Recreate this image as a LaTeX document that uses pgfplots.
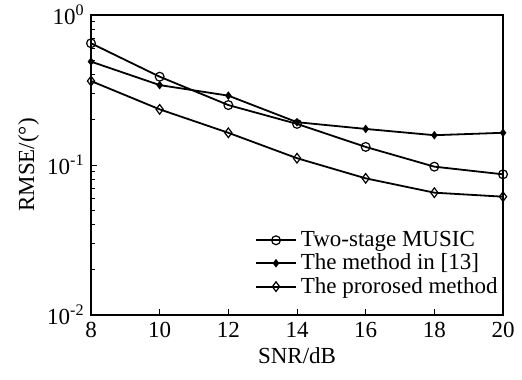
\documentclass[border=0pt]{standalone}
\usepackage{fontspec}
\setmainfont{Liberation Serif}
\usepackage{pgfplots}
\pgfplotsset{compat=1.18}
\begin{document}
\begin{tikzpicture}
\begin{axis}[
  scale only axis, width=206pt, height=150pt,
  ymode=log, xmin=8, xmax=20, ymin=0.01, ymax=1,
  xtick={8,10,12,14,16,18,20},
  xticklabels={8,10,12,14,16,18,20},
  ytick={0.01,0.1,1},
  yticklabels={10\textsuperscript{-2},10\textsuperscript{-1},10\textsuperscript{0}},
  tick pos=left, tick align=inside,
  major tick length=3pt, minor tick length=2pt,
  every tick/.style={black, line width=0.4pt},
  axis line style={line width=1pt},
  xlabel={SNR/dB}, ylabel={RMSE/(°)},
  xlabel style={yshift=-1.5pt},
  ylabel style={yshift=0.5pt},
  yticklabel style={inner sep=0pt, xshift=-3pt},
  xticklabel style={inner sep=0pt, yshift=-3.5pt},
  tick label style={font=\fontsize{11.5}{12}\selectfont},
  label style={font=\fontsize{11.5}{12}\selectfont},
  legend style={draw=none, fill=none, at={(rel axis cs:1.012,0.035)}, anchor=south east,
    font=\fontsize{11.5}{11}\selectfont, row sep=-1.8pt},
  legend cell align=left,
  legend image code/.code={\draw[mark repeat=2,mark phase=2,#1] plot coordinates {(0cm,0cm) (0.35cm,0cm) (0.7cm,0cm)};},
  every axis plot/.append style={black, line width=0.9pt},
]
\addplot[mark=o, mark size=2.2pt, mark options={line width=0.6pt}] coordinates {
(8,0.648) (10,0.388) (12,0.251) (14,0.188) (16,0.132) (18,0.0975) (20,0.0867)};
\addlegendentry{Two-stage MUSIC}
\addplot[mark=diamond*, mark size=1.6pt, mark options={scale=0.9}] coordinates {
(8,0.489) (10,0.341) (12,0.290) (14,0.193) (16,0.174) (18,0.158) (20,0.164)};
\addlegendentry{The method in [13]}
\addplot[mark=diamond, mark size=2.4pt, mark options={line width=0.6pt}] coordinates {
(8,0.363) (10,0.235) (12,0.164) (14,0.111) (16,0.0815) (18,0.0654) (20,0.0615)};
\addlegendentry{The prorosed method}
\coordinate (ll) at (rel axis cs:0,0);
\coordinate (ur) at (rel axis cs:1,1);
\end{axis}
\pgfresetboundingbox
\path ([xshift=-45.5pt,yshift=-32pt]ll) rectangle ([xshift=9.5pt,yshift=7.5pt]ur);
\end{tikzpicture}
\end{document}
